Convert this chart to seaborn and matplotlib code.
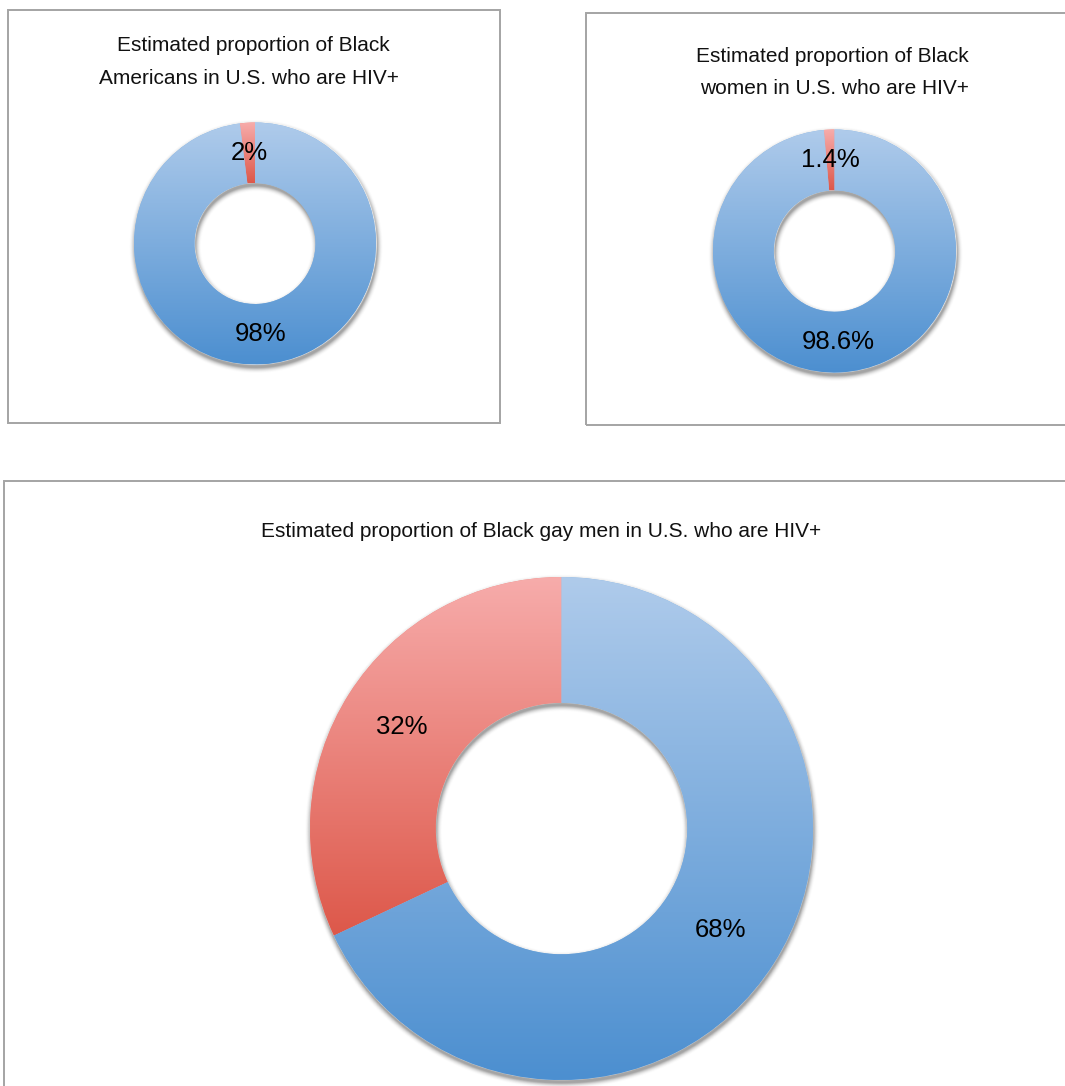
import numpy as np
import matplotlib
matplotlib.use("Agg")
import matplotlib.pyplot as plt
from matplotlib.patches import Rectangle
import seaborn as sns

# ---- data -------------------------------------------------------------
titles = [
    ["Estimated proportion of Black", "Americans in U.S. who are HIV+"],
    ["Estimated proportion of Black", "women in U.S. who are HIV+"],
    ["Estimated proportion of Black gay men in U.S. who are HIV+"],
]
categories = ["HIV+", "HIV-"]
americans = [2, 98]
women = [1.4, 98.6]
gay_men = [32, 68]

# ---- styling ----------------------------------------------------------
sns.set_theme(style="white")
plt.rcParams["font.family"] = ["Liberation Sans", "DejaVu Sans"]

W, H = 1065, 1086
fig = plt.figure(figsize=(W / 100, H / 100), dpi=100)
fig.patch.set_facecolor("white")

red_grad = sns.blend_palette(["#f7acab", "#dd584a"], as_cmap=True)
blue_grad = sns.blend_palette(["#afcbeb", "#4c8fd0"], as_cmap=True)
grads = [red_grad, blue_grad]


def fx(x):
    return x / W


def fy(y):
    return 1 - y / H


def frame(x0, y0, x1, y1):
    fig.add_artist(Rectangle((fx(x0), fy(y1)), fx(x1) - fx(x0), fy(y0) - fy(y1),
                             transform=fig.transFigure, fill=False,
                             ec="#a4a4a4", lw=1.4, zorder=0))


def ring_shadow(ax, R, off_px=3.0, blur_px=6.0, alpha=0.55, lim=1.15):
    """Soft drop shadow of a ring, kept outside the ring itself."""
    n = 1000
    xs = np.linspace(-lim, lim, n)
    X, Y = np.meshgrid(xs, xs)
    rs = np.hypot(X - 0.6 / R, Y + off_px / R)
    sd = np.maximum(rs - 1.0, 0.5 - rs) * R  # signed distance in px
    a = np.where(sd <= 0, alpha, alpha * np.clip(1 - sd / blur_px, 0, 1) ** 2)
    r0 = np.hypot(X, Y)
    sd0 = np.maximum(r0 - 1.0, 0.5 - r0) * R
    a = a * np.clip(sd0 + 0.5, 0, 1)
    img = np.zeros((n, n, 4))
    img[..., :3] = 0.35
    img[..., 3] = a
    ax.imshow(img, origin="lower", extent=[-lim, lim, -lim, lim],
              interpolation="bilinear", zorder=0.5, aspect="auto")


def donut(cx, cy, R, values):
    lim = 1.15
    ax = fig.add_axes([fx(cx - lim * R), fy(cy + lim * R), 2 * lim * R / W, 2 * lim * R / H])
    ring_shadow(ax, R, lim=lim)
    wedges, _, autotexts = ax.pie(
        values, labels=None, startangle=90, counterclock=True, radius=1.0,
        autopct=lambda p: f"{round(p, 1):g}%", pctdistance=0.75,
        wedgeprops=dict(width=0.5, linewidth=0, zorder=1),
        textprops=dict(fontsize=18.5, color="black"),
    )
    grad = np.linspace(0, 1, 256)[:, None]
    for w, cmap in zip(wedges, grads):
        w.set_facecolor(cmap(0.5))
        ext = w.get_path().get_extents()
        im = ax.imshow(grad, cmap=cmap, origin="upper", aspect="auto",
                       extent=[ext.x0, ext.x1, ext.y0, ext.y1], zorder=2,
                       interpolation="bilinear")
        im.set_clip_path(w)
    for t in autotexts:
        t.set_zorder(5)
    ax.set_xlim(-lim, lim)
    ax.set_ylim(-lim, lim)
    ax.set_aspect("equal")
    ax.axis("off")
    return ax


# ---- panel frames ------------------------------------------------------
frame(8, 10, 500, 423)
frame(586, 13, 1080, 425)
frame(4, 481, 1080, 1100)

# ---- titles ------------------------------------------------------------
title_kw = dict(fontsize=15, color="#111111", ha="center", va="baseline")
fig.text(fx(253), fy(51), titles[0][0], **title_kw)
fig.text(fx(249), fy(83.5), titles[0][1], **title_kw)
fig.text(fx(832), fy(61.5), titles[1][0], **title_kw)
fig.text(fx(834), fy(93.5), titles[1][1], **title_kw)
fig.text(fx(541.5), fy(537), titles[2][0], **title_kw)

# ---- donuts ------------------------------------------------------------
donut(255, 243.5, 121, americans)
donut(834.5, 251, 121.5, women)
donut(561.5, 828.5, 251.5, gay_men)

fig.savefig("out.png", dpi=100, facecolor="white")
